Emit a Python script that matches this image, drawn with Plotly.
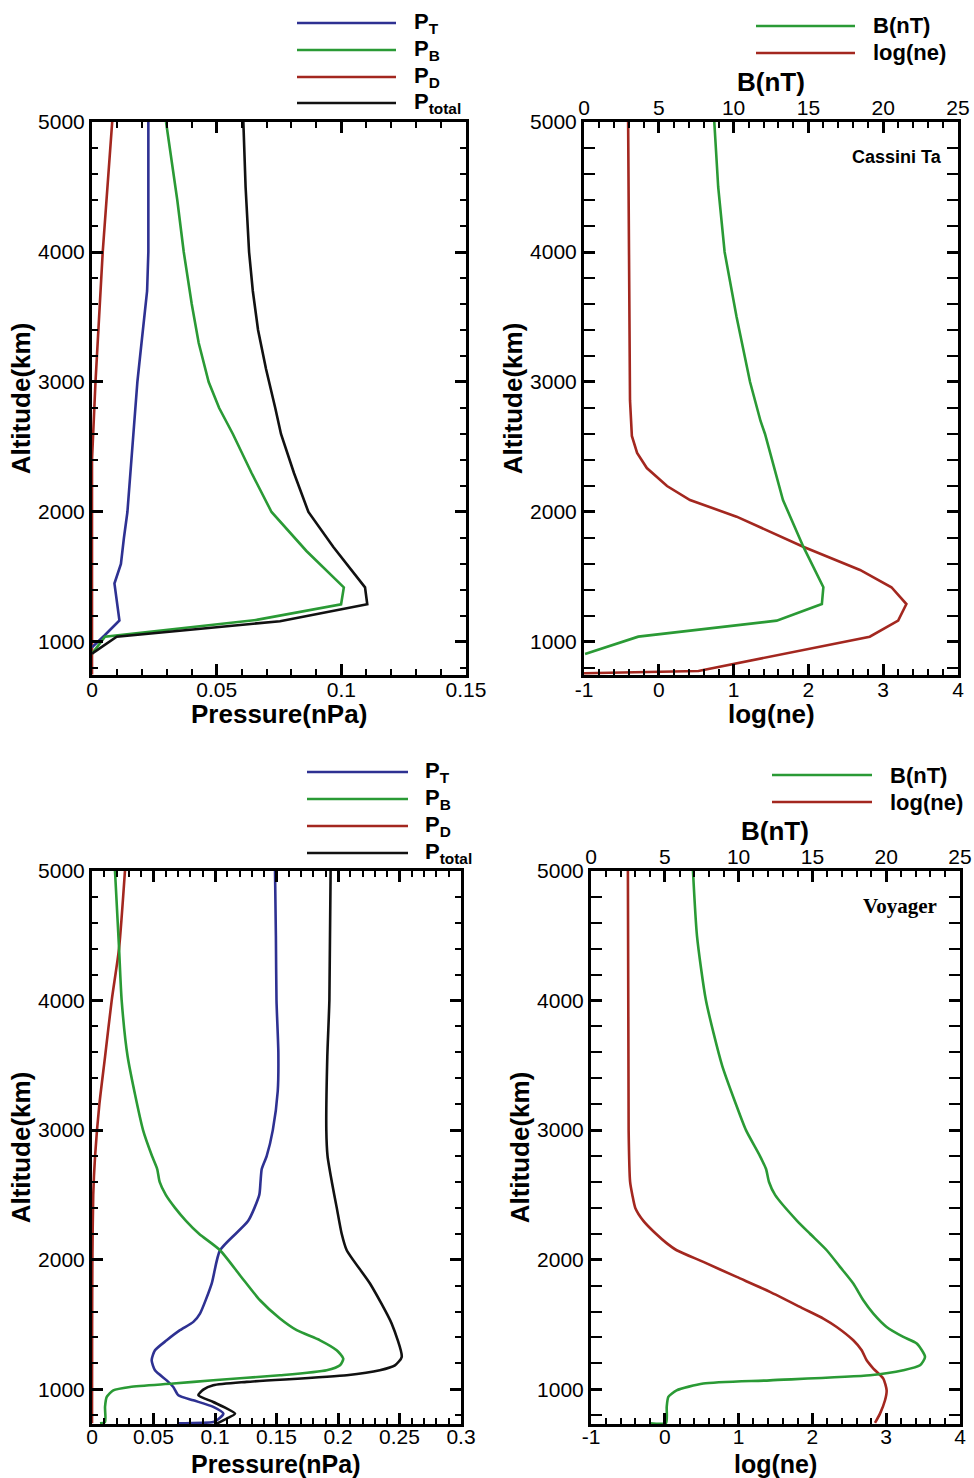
import plotly.graph_objects as go

FONT = "Liberation Sans, Arial, Helvetica, sans-serif"
SERIF = "Liberation Serif, Times New Roman, serif"
W, H = 974, 1478

BLUE = "#2e3192"
GREEN = "#2a9a35"
RED = "#a3271f"
BLACK = "#111111"

# ---------------- Cassini Ta : pressures ----------------
cas_alt_PT = [5000, 4500, 4000, 3700, 3400, 3200, 3000, 2700, 2500, 2200, 2000, 1800, 1600, 1450, 1300, 1165, 1050, 960]
cas_PT = [0.0226, 0.0227, 0.0226, 0.0221, 0.0206, 0.0193, 0.0182, 0.0170, 0.0165, 0.0152, 0.0142, 0.0128, 0.0116,
          0.0090, 0.0100, 0.0110, 0.0050, 0.0]

cas_alt_PB = [5000, 4700, 4400, 4000, 3600, 3300, 3000, 2800, 2650, 2600, 2300, 2000, 1700, 1420, 1290, 1170, 1040, 910]
cas_PB = [0.0297, 0.0320, 0.0342, 0.0368, 0.0400, 0.0428, 0.0468, 0.0510, 0.0553, 0.0565, 0.0640, 0.0720, 0.0860,
          0.1010, 0.0999, 0.0660, 0.0052, 0.0]

cas_alt_PD = [5000, 4000, 3000, 2600, 2400, 1500, 750]
cas_PD = [0.0081, 0.0043, 0.0014, 0.0003, 0.0, 0.0, 0.0]

cas_alt_Ptot = [5000, 4500, 4000, 3700, 3400, 3100, 2800, 2600, 2300, 2000, 1730, 1420, 1290, 1160, 1040, 910]
cas_Ptot = [0.0607, 0.0616, 0.0630, 0.0645, 0.0666, 0.0698, 0.0735, 0.0758, 0.0810, 0.0868, 0.0968, 0.1095, 0.1104,
            0.0754, 0.0099, 0.0]

# ---------------- Cassini Ta : B and log(ne) ----------------
cas_alt_B = [5000, 4500, 4000, 3500, 3000, 2700, 2600, 2092, 1733, 1421, 1292, 1164, 1041, 908]
cas_B = [8.71, 8.97, 9.40, 10.2, 11.1, 11.8, 12.1, 13.3, 14.66, 16.0, 15.9, 12.88, 3.63, 0.07]

cas_alt_ne = [5000, 4000, 3000, 2860, 2585, 2454, 2338, 2200, 2092, 1964, 1733, 1554, 1421, 1292, 1164, 1041, 777, 760]
cas_ne = [-0.41, -0.40, -0.39, -0.385, -0.36, -0.29, -0.16, 0.11, 0.417, 1.04, 1.93, 2.69, 3.11, 3.31, 3.20, 2.82, 0.53, -1.0]

# ---------------- Voyager : pressures ----------------
voy_alt_PT = [5000, 4500, 4000, 3600, 3300, 3000, 2800, 2700, 2600, 2500, 2300, 2073, 1816, 1584, 1520, 1456,
              1378, 1301, 1224, 1147, 1069, 1018, 954, 915, 864, 812, 761, 748, 738]
voy_PT = [0.1488, 0.1495, 0.1500, 0.1515, 0.1510, 0.1470, 0.1420, 0.1380, 0.1370, 0.1360, 0.1270, 0.1041, 0.0973,
          0.0878, 0.0824, 0.0715, 0.0607, 0.0512, 0.0485, 0.0512, 0.0607, 0.0661, 0.0702, 0.0824, 0.0986, 0.1068,
          0.1014, 0.0986, 0.0700]

voy_alt_PB = [5000, 4403, 4004, 3566, 3000, 2800, 2700, 2600, 2500, 2400, 2300, 2200, 2073, 1880, 1687, 1546,
              1456, 1378, 1301, 1237, 1185, 1147, 1108, 1070, 1044, 1018, 992, 941, 864, 748, 738]
voy_PB = [0.0187, 0.0220, 0.0241, 0.0290, 0.0415, 0.0488, 0.0530, 0.0550, 0.0600, 0.0675, 0.0764, 0.0870, 0.1041,
          0.1203, 0.1366, 0.1528, 0.1664, 0.1854, 0.1989, 0.2043, 0.2016, 0.1908, 0.1528, 0.0986, 0.0661, 0.0309,
          0.0173, 0.0120, 0.0106, 0.0106, 0.0065]

voy_alt_PD = [5000, 4403, 4000, 3566, 3200, 2800, 2500, 2000, 1500, 738]
voy_PD = [0.0268, 0.0220, 0.0160, 0.0106, 0.0060, 0.0025, 0.0010, 0.0003, 0.0001, 0.0]

voy_alt_Ptot = [5000, 4004, 3566, 3000, 2800, 2600, 2400, 2200, 2073, 1816, 1507, 1250, 1185, 1147, 1108, 1057,
                1031, 997, 954, 902, 812, 774, 735]
voy_Ptot = [0.1940, 0.1930, 0.1913, 0.1905, 0.1915, 0.1950, 0.1990, 0.2030, 0.2071, 0.2260, 0.2436, 0.2518, 0.2463,
            0.2340, 0.2071, 0.1258, 0.0986, 0.0905, 0.0865, 0.0986, 0.1163, 0.1095, 0.1014]

# ---------------- Voyager : B and log(ne) ----------------
voy_alt_B = [5000, 4500, 4000, 3500, 3200, 3000, 2800, 2700, 2600, 2500, 2300, 2200, 2073, 1945, 1816, 1687,
             1584, 1481, 1404, 1353, 1250, 1185, 1147, 1108, 1069, 1044, 992, 941, 864, 740, 738]
voy_B = [6.91, 7.18, 7.79, 8.88, 9.82, 10.5, 11.45, 11.86, 12.06, 12.47, 13.96, 14.84, 15.97, 16.87, 17.77, 18.45,
         19.13, 20.03, 21.16, 22.07, 22.63, 22.29, 21.16, 18.9, 12.13, 7.61, 5.80, 5.24, 5.13, 5.08, 4.0]

voy_alt_ne = [5000, 3000, 2600, 2500, 2400, 2300, 2200, 2130, 2073, 1983, 1867, 1752, 1623, 1546, 1481, 1378, 1301,
              1224, 1160, 1082, 992, 915, 812, 740]
voy_ne = [-0.50, -0.49, -0.47, -0.44, -0.40, -0.29, -0.12, 0.02, 0.161, 0.522, 0.974, 1.425, 1.877, 2.148, 2.329,
          2.554, 2.668, 2.735, 2.826, 2.961, 3.006, 2.984, 2.916, 2.848]

# tick labels
ne_tickvals = [-1, 0, 1, 2, 3, 4]
ne_ticktext = ["-1", "0", "1", "2", "3", "4"]

fig = go.Figure()


def add(x, y, color, xa, ya, shape="linear"):
    fig.add_trace(go.Scatter(x=x, y=y, mode="lines", xaxis=xa, yaxis=ya, showlegend=False,
                             line=dict(color=color, width=2.6, shape=shape, smoothing=0.6),
                             hoverinfo="skip"))


# top-left
add(cas_PD, cas_alt_PD, RED, "x", "y")
add(cas_PT, cas_alt_PT, BLUE, "x", "y")
add(cas_PB, cas_alt_PB, GREEN, "x", "y")
add(cas_Ptot, cas_alt_Ptot, BLACK, "x", "y")
# top-right
add(cas_B, cas_alt_B, GREEN, "x3", "y2")
add(cas_ne, cas_alt_ne, RED, "x2", "y2")
# bottom-left
add(voy_PD, voy_alt_PD, RED, "x4", "y4", "spline")
add(voy_PT, voy_alt_PT, BLUE, "x4", "y4", "spline")
add(voy_PB, voy_alt_PB, GREEN, "x4", "y4", "spline")
add(voy_Ptot, voy_alt_Ptot, BLACK, "x4", "y4", "spline")
# bottom-right
add(voy_B, voy_alt_B, GREEN, "x6", "y5", "spline")
add(voy_ne, voy_alt_ne, RED, "x5", "y5", "spline")


def px(v):
    return v / W


def py(v):
    return 1 - v / H


TICKFONT = dict(family=FONT, size=21, color="black")
TITLEFONT = dict(family=FONT, size=26, color="black")
TITLEFONT_B = dict(family=FONT, size=25, color="black")


def base(**kw):
    d = dict(ticks="inside", ticklen=11, tickwidth=3, tickcolor="black", showline=True, linewidth=3,
             linecolor="black", showgrid=False, zeroline=False, tickfont=TICKFONT, automargin=False,
             fixedrange=True)
    d.update(kw)
    return d


def minor(dt):
    return dict(dtick=dt, tick0=0, ticks="inside", ticklen=6, tickwidth=1.5, tickcolor="black", showgrid=False)


TOP = (122, 675)
BOT = (871, 1424)
ytop_dom = [py(TOP[1]), py(TOP[0])]
ybot_dom = [py(BOT[1]), py(BOT[0])]
YR_TOP = [746, 5000]
YR_BOT = [732, 5000]

ALT_TITLE = dict(text="<b>Altitude(km)</b>", font=TITLEFONT, standoff=0)

layout = dict(
    width=W, height=H, margin=dict(l=0, r=0, t=0, b=0),
    paper_bgcolor="white", plot_bgcolor="white", showlegend=False,
    xaxis=base(domain=[px(92), px(466)], range=[0, 0.15], tickmode="linear", tick0=0, dtick=0.05,
               minor=minor(0.01), mirror="allticks", anchor="y", ticklabelstandoff=-6),
    yaxis=base(domain=ytop_dom, range=YR_TOP, tickmode="linear", tick0=0, dtick=1000, minor=minor(200),
               mirror="allticks", anchor="x", title=ALT_TITLE),
    xaxis2=base(domain=[px(584), px(958)], range=[-1, 4], tickmode="array", tickvals=ne_tickvals,
                ticktext=ne_ticktext, minor=minor(0.2), mirror=True, anchor="y2", ticklabelstandoff=-6),
    xaxis3=base(range=[0, 25], tickmode="linear", tick0=0, dtick=5, minor=minor(1), overlaying="x2",
                side="top", anchor="y2", ticklabelstandoff=-4),
    yaxis2=base(domain=ytop_dom, range=YR_TOP, tickmode="linear", tick0=0, dtick=1000, minor=minor(200),
                mirror="allticks", anchor="x2", title=ALT_TITLE),
    xaxis4=base(domain=[px(92), px(461)], range=[0, 0.3], tickmode="linear", tick0=0, dtick=0.05,
                minor=minor(0.01), mirror="allticks", anchor="y4", ticklabelstandoff=-8),
    yaxis4=base(domain=ybot_dom, range=YR_BOT, tickmode="linear", tick0=0, dtick=1000, minor=minor(200),
                mirror="allticks", anchor="x4", title=ALT_TITLE),
    xaxis5=base(domain=[px(591), px(960)], range=[-1, 4], tickmode="array", tickvals=ne_tickvals,
                ticktext=ne_ticktext, minor=minor(0.2), mirror=True, anchor="y5", ticklabelstandoff=-8),
    xaxis6=base(range=[0, 25], tickmode="linear", tick0=0, dtick=5, minor=minor(1), overlaying="x5",
                side="top", anchor="y5", ticklabelstandoff=-4),
    yaxis5=base(domain=ybot_dom, range=YR_BOT, tickmode="linear", tick0=0, dtick=1000, minor=minor(200),
                mirror="allticks", anchor="x5", title=ALT_TITLE),
)
fig.update_layout(**layout)

shapes = []
annotations = []
LEGFONT = dict(family=FONT, size=22, color="black")


def legend(x0, x1, xt, ys, colors, labels):
    for yy, c, lab in zip(ys, colors, labels):
        shapes.append(dict(type="line", xref="paper", yref="paper", x0=px(x0), x1=px(x1), y0=py(yy), y1=py(yy),
                           line=dict(color=c, width=2.6)))
        annotations.append(dict(xref="paper", yref="paper", x=px(xt), y=py(yy), xanchor="left", yanchor="middle",
                                text=lab, showarrow=False, font=LEGFONT))


def title(text, xc, yc, font=TITLEFONT):
    annotations.append(dict(xref="paper", yref="paper", x=px(xc), y=py(yc), xanchor="center", yanchor="middle",
                            text=text, showarrow=False, font=font))


P_labels = ["<b>P<sub>T</sub></b>", "<b>P<sub>B</sub></b>", "<b>P<sub>D</sub></b>", "<b>P<sub>total</sub></b>"]
legend(297, 396, 412, [23, 50, 77, 103], [BLUE, GREEN, RED, BLACK], P_labels)
legend(756, 855, 871, [26, 53], [GREEN, RED], ["<b>B(nT)</b>", "<b>log(ne)</b>"])
legend(307, 408, 423, [772, 799, 826, 853], [BLUE, GREEN, RED, BLACK], P_labels)
legend(772, 872, 888, [775, 802], [GREEN, RED], ["<b>B(nT)</b>", "<b>log(ne)</b>"])

# axis titles placed as text
title("<b>Pressure(nPa)</b>", 279, 714)
title("<b>log(ne)</b>", 771, 714)
title("<b>B(nT)</b>", 771, 82)
title("<b>Pressure(nPa)</b>", 276, 1464, TITLEFONT_B)
title("<b>log(ne)</b>", 775, 1464, TITLEFONT_B)
title("<b>B(nT)</b>", 775, 831)

annotations.append(dict(xref="paper", yref="paper", x=px(944), y=py(157), xanchor="right", yanchor="middle",
                        text="<b>Cassini Ta</b>", showarrow=False, font=dict(family=FONT, size=18, color="black")))
annotations.append(dict(xref="paper", yref="paper", x=px(939), y=py(906), xanchor="right", yanchor="middle",
                        text="<b>Voyager</b>", showarrow=False, font=dict(family=SERIF, size=21, color="black")))

fig.update_layout(shapes=shapes, annotations=annotations)
fig.write_html("out.html")
